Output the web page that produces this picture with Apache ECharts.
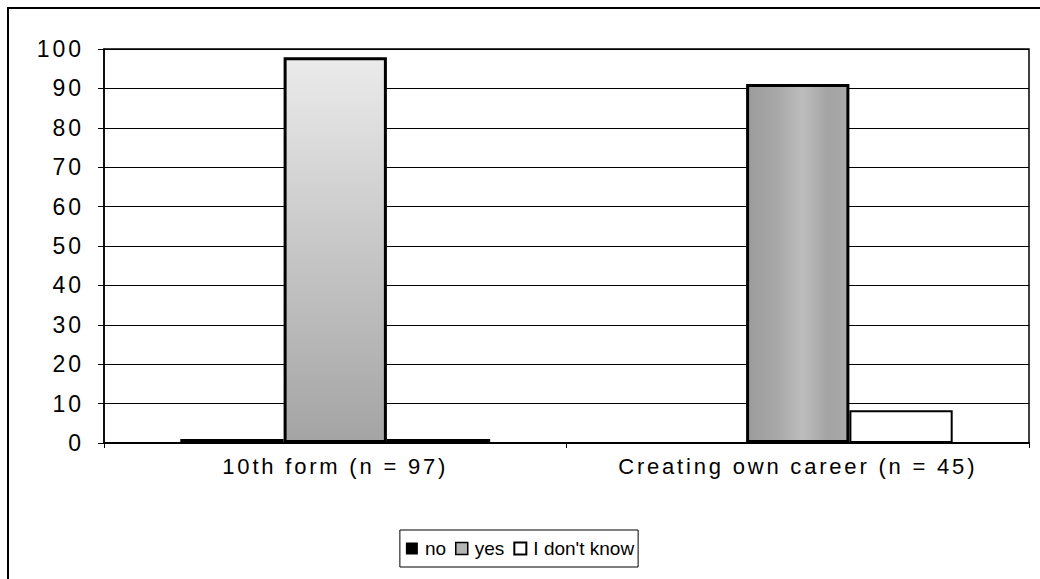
<!DOCTYPE html>
<html>
<head>
<meta charset="utf-8">
<script src="https://cdn.jsdelivr.net/npm/echarts@6/dist/echarts.min.js"></script>
<style>
html,body{margin:0;padding:0;background:#fff;}
#frame{position:absolute;left:7px;top:7px;width:1040px;height:580px;border-left:2px solid #000;border-top:2px solid #000;box-sizing:border-box;}
#chart{position:absolute;left:0;top:0;width:1040px;height:579px;}
</style>
</head>
<body>
<div id="frame"></div>
<div id="chart"></div>
<script>
const categories = ['10th form (n = 97)', 'Creating own career (n = 45)'];
const seriesNames = ['no', 'yes', "I don't know"];
const noValues = [1.0, 0];
const yesValues = [97.9, 91.1];
const dontKnowValues = [1.0, 8.3];
const yTicks = [0, 10, 20, 30, 40, 50, 60, 70, 80, 90, 100];

const chart = echarts.init(document.getElementById('chart'), null, {renderer: 'svg'});
const font = 'Liberation Sans, Arial, Helvetica, sans-serif';

const yesColors = [
  {type: 'linear', x: 0, y: 0, x2: 0, y2: 1, colorStops: [
    {offset: 0, color: '#ebebeb'}, {offset: 0.45, color: '#cacaca'}, {offset: 1, color: '#a4a4a4'}]},
  {type: 'linear', x: 0, y: 0, x2: 1, y2: 0, colorStops: [
    {offset: 0, color: '#9c9c9c'}, {offset: 0.3, color: '#a8a8a8'}, {offset: 0.55, color: '#bdbdbd'}, {offset: 0.8, color: '#a4a4a4'}, {offset: 1, color: '#a8a8a8'}]}
];

chart.setOption({
  animation: false,
  backgroundColor: 'transparent',
  grid: {left: 104, right: 11, top: 49, bottom: 136, show: true, borderColor: '#000', borderWidth: 1.5, backgroundColor: 'transparent'},
  legend: {
    bottom: 12, left: 'center',
    borderColor: '#000', borderWidth: 1, padding: [9, 4, 9, 6],
    itemWidth: 12, itemHeight: 12, itemGap: 9,
    textStyle: {fontFamily: font, fontSize: 19, color: '#000', padding: [0, 0, 0, 2]},
    data: [
      {name: 'no', icon: 'rect', itemStyle: {color: '#000', borderWidth: 0}},
      {name: 'yes', icon: 'rect', itemStyle: {color: '#b4b4b4', borderColor: '#000', borderWidth: 1.5}},
      {name: "I don't know", icon: 'rect', itemStyle: {color: '#fff', borderColor: '#000', borderWidth: 2}}
    ]
  },
  xAxis: {
    type: 'category', data: categories,
    axisLine: {lineStyle: {color: '#000', width: 2}},
    axisTick: {show: true, length: 5, lineStyle: {color: '#000', width: 1}},
    axisLabel: {fontFamily: font, fontSize: 22, color: '#000', margin: 12}
  },
  yAxis: {
    type: 'value', min: yTicks[0], max: yTicks[yTicks.length - 1], interval: 10,
    axisLine: {show: true, lineStyle: {color: '#000', width: 1.5}},
    axisTick: {show: true, length: 6, lineStyle: {color: '#000'}},
    axisLabel: {fontFamily: font, fontSize: 23, color: '#000', margin: 20, padding: [5, 0, 0, 0]},
    splitLine: {show: true, lineStyle: {color: '#000', width: 1}}
  },
  series: [
    {name: seriesNames[0], type: 'bar', data: noValues, barGap: '0%', barCategoryGap: '33%',
     itemStyle: {color: '#000', borderColor: '#000', borderWidth: 0}},
    {name: seriesNames[1], type: 'bar', data: yesValues.map((v, i) => ({value: v, itemStyle: {color: yesColors[i]}})),
     itemStyle: {borderColor: '#000', borderWidth: 3}},
    {name: seriesNames[2], type: 'bar', data: dontKnowValues,
     itemStyle: {color: '#fff', borderColor: '#000', borderWidth: 2}}
  ]
});

function spaceAxisText() {
  const legendNames = new Set(seriesNames);
  document.querySelectorAll('#chart svg text').forEach(t => {
    const s = t.textContent;
    if (legendNames.has(s)) return;
    if (categories.includes(s)) t.style.letterSpacing = '2.8px';
    else t.style.letterSpacing = '3px';
  });
}
spaceAxisText();
chart.on('finished', spaceAxisText);
</script>
</body>
</html>
